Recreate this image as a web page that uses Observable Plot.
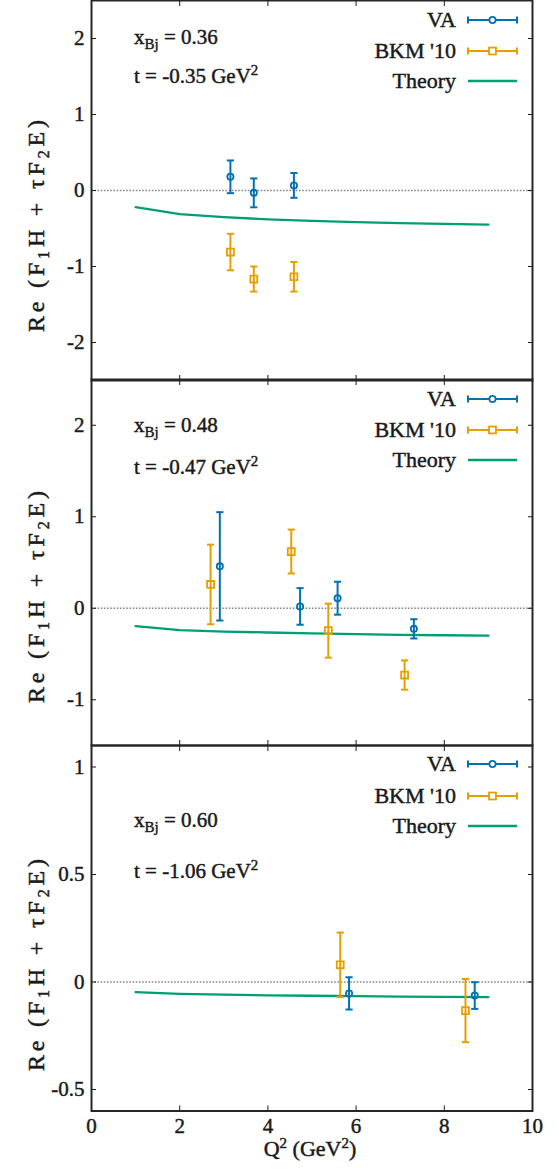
<!DOCTYPE html>
<html><head><meta charset="utf-8">
<script src="https://cdn.jsdelivr.net/npm/d3@7"></script>
<script src="https://cdn.jsdelivr.net/npm/@observablehq/plot@0.6"></script>
<style>
body{margin:0;background:#fff;}
#wrap{position:relative;width:559px;height:1171px;overflow:hidden;background:#fff;}
#wrap svg{position:absolute;left:0;overflow:visible;font-family:'Liberation Serif','Times New Roman',serif;font-size:21px;color:#1a1a1a;background:transparent;}
#wrap svg text{font-family:'Liberation Serif','Times New Roman',serif;stroke:#1a1a1a;stroke-width:0.45px;}
</style></head><body><div id="wrap"></div>
<script>
// ---------- data ----------
const xTicks = [0, 2, 4, 6, 8, 10];
const xInnerTicks = [2, 4, 6, 8];
const theoryQ2 = [1, 2, 3, 4, 5, 6, 7, 8, 9];
const seriesNames = ["VA", "BKM '10", "Theory"];

// panel 1: xBj = 0.36, t = -0.35
const p1Xbj = "0.36", p1T = "-0.35";
const p1YTicks = [-2, -1, 0, 1, 2];
const p1YDomain = [-2.5, 2.5];
const p1VAx = [3.15, 3.68, 4.59];
const p1VAy = [0.18, -0.031, 0.067];
const p1VAe = [0.215, 0.19, 0.163];
const p1BKMx = [3.15, 3.68, 4.59];
const p1BKMy = [-0.81, -1.165, -1.135];
const p1BKMe = [0.24, 0.165, 0.195];
const p1Theory = [-0.22, -0.31, -0.35, -0.38, -0.40, -0.415, -0.43, -0.44, -0.45];

// panel 2: xBj = 0.48, t = -0.47
const p2Xbj = "0.48", p2T = "-0.47";
const p2YTicks = [-1, 0, 1, 2];
const p2YDomain = [-1.5, 2.5];
const p2VAx = [2.91, 4.73, 5.58, 7.31];
const p2VAy = [0.458, 0.02, 0.11, -0.225];
const p2VAe = [0.592, 0.2, 0.18, 0.105];
const p2BKMx = [2.70, 4.53, 5.37, 7.10];
const p2BKMy = [0.26, 0.62, -0.245, -0.73];
const p2BKMe = [0.435, 0.24, 0.295, 0.16];
const p2Theory = [-0.195, -0.24, -0.255, -0.265, -0.275, -0.283, -0.29, -0.295, -0.30];

// panel 3: xBj = 0.60, t = -1.06
const p3Xbj = "0.60", p3T = "-1.06";
const p3YTicks = [-0.5, 0, 0.5, 1];
const p3YDomain = [-0.6, 1.1];
const p3VAx = [5.84, 8.69];
const p3VAy = [-0.053, -0.063];
const p3VAe = [0.075, 0.062];
const p3BKMx = [5.64, 8.48];
const p3BKMy = [0.08, -0.133];
const p3BKMe = [0.15, 0.147];
const p3Theory = [-0.047, -0.055, -0.059, -0.062, -0.064, -0.066, -0.068, -0.069, -0.07];

// ---------- styling ----------
const BLUE = "#0072b2", ORANGE = "#e69f00", GREEN = "#009e73";
const FONT = "'Liberation Serif', 'Times New Roman', serif";
const capSymbol = {draw(ctx, size) { const r = Math.sqrt(size / Math.PI); ctx.moveTo(-r, 0); ctx.lineTo(r, 0); }};
const fmt = d => String(d);
const wrap = document.getElementById("wrap");

function pts(xs, ys, es) { return xs.map((x, i) => ({x, y: ys[i], lo: ys[i] - es[i], hi: ys[i] + es[i]})); }

function errMarks(data, color, symbol, r) {
  return [
    Plot.ruleX(data, {x: "x", y1: "lo", y2: "hi", stroke: color, strokeWidth: 2}),
    Plot.dot(data, {x: "x", y: "lo", symbol: capSymbol, r: 3.6, stroke: color, strokeWidth: 2, fill: "none"}),
    Plot.dot(data, {x: "x", y: "hi", symbol: capSymbol, r: 3.6, stroke: color, strokeWidth: 2, fill: "none"}),
    Plot.dot(data, {x: "x", y: "y", symbol, r, stroke: color, strokeWidth: 1.8, fill: "none"})
  ];
}

function panel(cfg) {
  const {svgTop, plotH, mt, mb, yDomain, yTicks, va, bkm, theory, xbj, t, legendRows, ann, ylabelY, bottomAxis} = cfg;
  const theoryData = theoryQ2.map((q, i) => ({q, v: theory[i]}));
  const marks = [
    Plot.ruleY([0], {stroke: "#888", strokeWidth: 1.3, strokeDasharray: "1.6,1.6"}),
    Plot.line(theoryData, {x: "q", y: "v", stroke: GREEN, strokeWidth: 2.3}),
    ...errMarks(va, BLUE, "circle", 3.1),
    ...errMarks(bkm, ORANGE, "square", 3.9),
    Plot.axisY({ticks: yTicks, anchor: "left", tickSize: 0, tickPadding: 7, tickFormat: fmt, label: null, fontSize: 21}),
    Plot.axisY({ticks: yTicks, anchor: "left", tickSize: 5, dx: 5, tickFormat: () => "", label: null}),
    Plot.axisY({ticks: yTicks, anchor: "right", tickSize: 5, dx: -5, tickFormat: () => "", label: null}),
    Plot.axisX({ticks: xInnerTicks, anchor: "top", tickSize: 5, dy: 5, tickFormat: () => "", label: null}),
    Plot.axisX({ticks: xInnerTicks, anchor: "bottom", tickSize: 5, dy: -5, tickFormat: () => "", label: null}),
    Plot.frame({stroke: "#262626", strokeWidth: 2})
  ];
  if (bottomAxis) marks.push(Plot.axisX({ticks: xTicks, anchor: "bottom", tickSize: 0, tickPadding: 7, tickFormat: fmt, label: null, fontSize: 21}));
  const svgEl = Plot.plot({
    width: 559, height: mt + plotH + mb,
    marginLeft: 91, marginRight: 27, marginTop: mt, marginBottom: mb,
    x: {domain: [0, 10]},
    y: {domain: yDomain},
    style: "font-family:" + FONT + ";font-size:21px;color:#1a1a1a;background:transparent;overflow:visible;",
    marks
  });
  svgEl.style.top = svgTop + "px";
  wrap.appendChild(svgEl);
  const svg = d3.select(svgEl);
  const g = svg.append("g").attr("transform", `translate(0,${-svgTop})`)
    .attr("font-family", FONT).attr("fill", "#1a1a1a").attr("text-anchor", "start");

  // legend
  const colors = [BLUE, ORANGE, GREEN];
  legendRows.forEach((yy, i) => {
    g.append("text").attr("x", 456).attr("y", yy).attr("dy", "0.33em").attr("text-anchor", "end")
      .attr("font-size", 22).text(seriesNames[i]);
    const c = colors[i];
    g.append("line").attr("x1", 468).attr("x2", 517).attr("y1", yy).attr("y2", yy).attr("stroke", c).attr("stroke-width", i === 2 ? 2.3 : 2);
    if (i < 2) {
      [468, 517].forEach(xx => g.append("line").attr("x1", xx).attr("x2", xx).attr("y1", yy - 3.5).attr("y2", yy + 3.5).attr("stroke", c).attr("stroke-width", 2));
      if (i === 0) g.append("circle").attr("cx", 492.5).attr("cy", yy).attr("r", 3.1).attr("fill", "#fff").attr("stroke", c).attr("stroke-width", 1.8);
      else g.append("rect").attr("x", 492.5 - 3.45).attr("y", yy - 3.45).attr("width", 6.9).attr("height", 6.9).attr("fill", "#fff").attr("stroke", c).attr("stroke-width", 1.8);
    }
  });

  // annotations
  const a1 = g.append("text").attr("x", 134).attr("y", ann[0]).attr("font-size", 21).attr("text-anchor", "start");
  a1.append("tspan").text("x");
  a1.append("tspan").attr("dy", 5).attr("font-size", 15).text("Bj");
  a1.append("tspan").attr("dy", -5).text(" = " + xbj);
  const a2 = g.append("text").attr("x", 134).attr("y", ann[1]).attr("font-size", 21).attr("text-anchor", "start");
  a2.append("tspan").text("t = " + t + " GeV");
  a2.append("tspan").attr("dy", -8).attr("font-size", 15).text("2");

  // y label
  const yl = g.append("text").attr("transform", `translate(43.5,${ylabelY}) rotate(-90)`)
    .attr("text-anchor", "middle").attr("font-size", 24)
    .attr("textLength", 212).attr("lengthAdjust", "spacing");
  yl.append("tspan").text("Re (F");
  yl.append("tspan").attr("dy", 5).attr("font-size", 16).text("1");
  yl.append("tspan").attr("dy", -5).text("H + τF");
  yl.append("tspan").attr("dy", 5).attr("font-size", 16).text("2");
  yl.append("tspan").attr("dy", -5).text("E)");

  if (bottomAxis) {
    const xl = g.append("text").attr("x", 310).attr("y", 1156).attr("text-anchor", "middle").attr("font-size", 22);
    xl.append("tspan").text("Q");
    xl.append("tspan").attr("dy", -8).attr("font-size", 15).text("2");
    xl.append("tspan").attr("dy", 8).text(" (GeV");
    xl.append("tspan").attr("dy", -8).attr("font-size", 15).text("2");
    xl.append("tspan").attr("dy", 8).text(")");
  }
}

panel({svgTop: -2, plotH: 380, mt: 2, mb: 2, yDomain: p1YDomain, yTicks: p1YTicks,
  va: pts(p1VAx, p1VAy, p1VAe), bkm: pts(p1BKMx, p1BKMy, p1BKMe), theory: p1Theory,
  xbj: p1Xbj, t: p1T, legendRows: [20, 51, 81], ann: [44, 83], ylabelY: 226, bottomAxis: false});
panel({svgTop: 377, plotH: 366, mt: 2, mb: 2, yDomain: p2YDomain, yTicks: p2YTicks,
  va: pts(p2VAx, p2VAy, p2VAe), bkm: pts(p2BKMx, p2BKMy, p2BKMe), theory: p2Theory,
  xbj: p2Xbj, t: p2T, legendRows: [399, 430, 460], ann: [432, 474], ylabelY: 597, bottomAxis: false});
panel({svgTop: 743, plotH: 365.5, mt: 2, mb: 60.5, yDomain: p3YDomain, yTicks: p3YTicks,
  va: pts(p3VAx, p3VAy, p3VAe), bkm: pts(p3BKMx, p3BKMy, p3BKMe), theory: p3Theory,
  xbj: p3Xbj, t: p3T, legendRows: [764, 796, 826], ann: [827, 878], ylabelY: 965, bottomAxis: true});
</script></body></html>
